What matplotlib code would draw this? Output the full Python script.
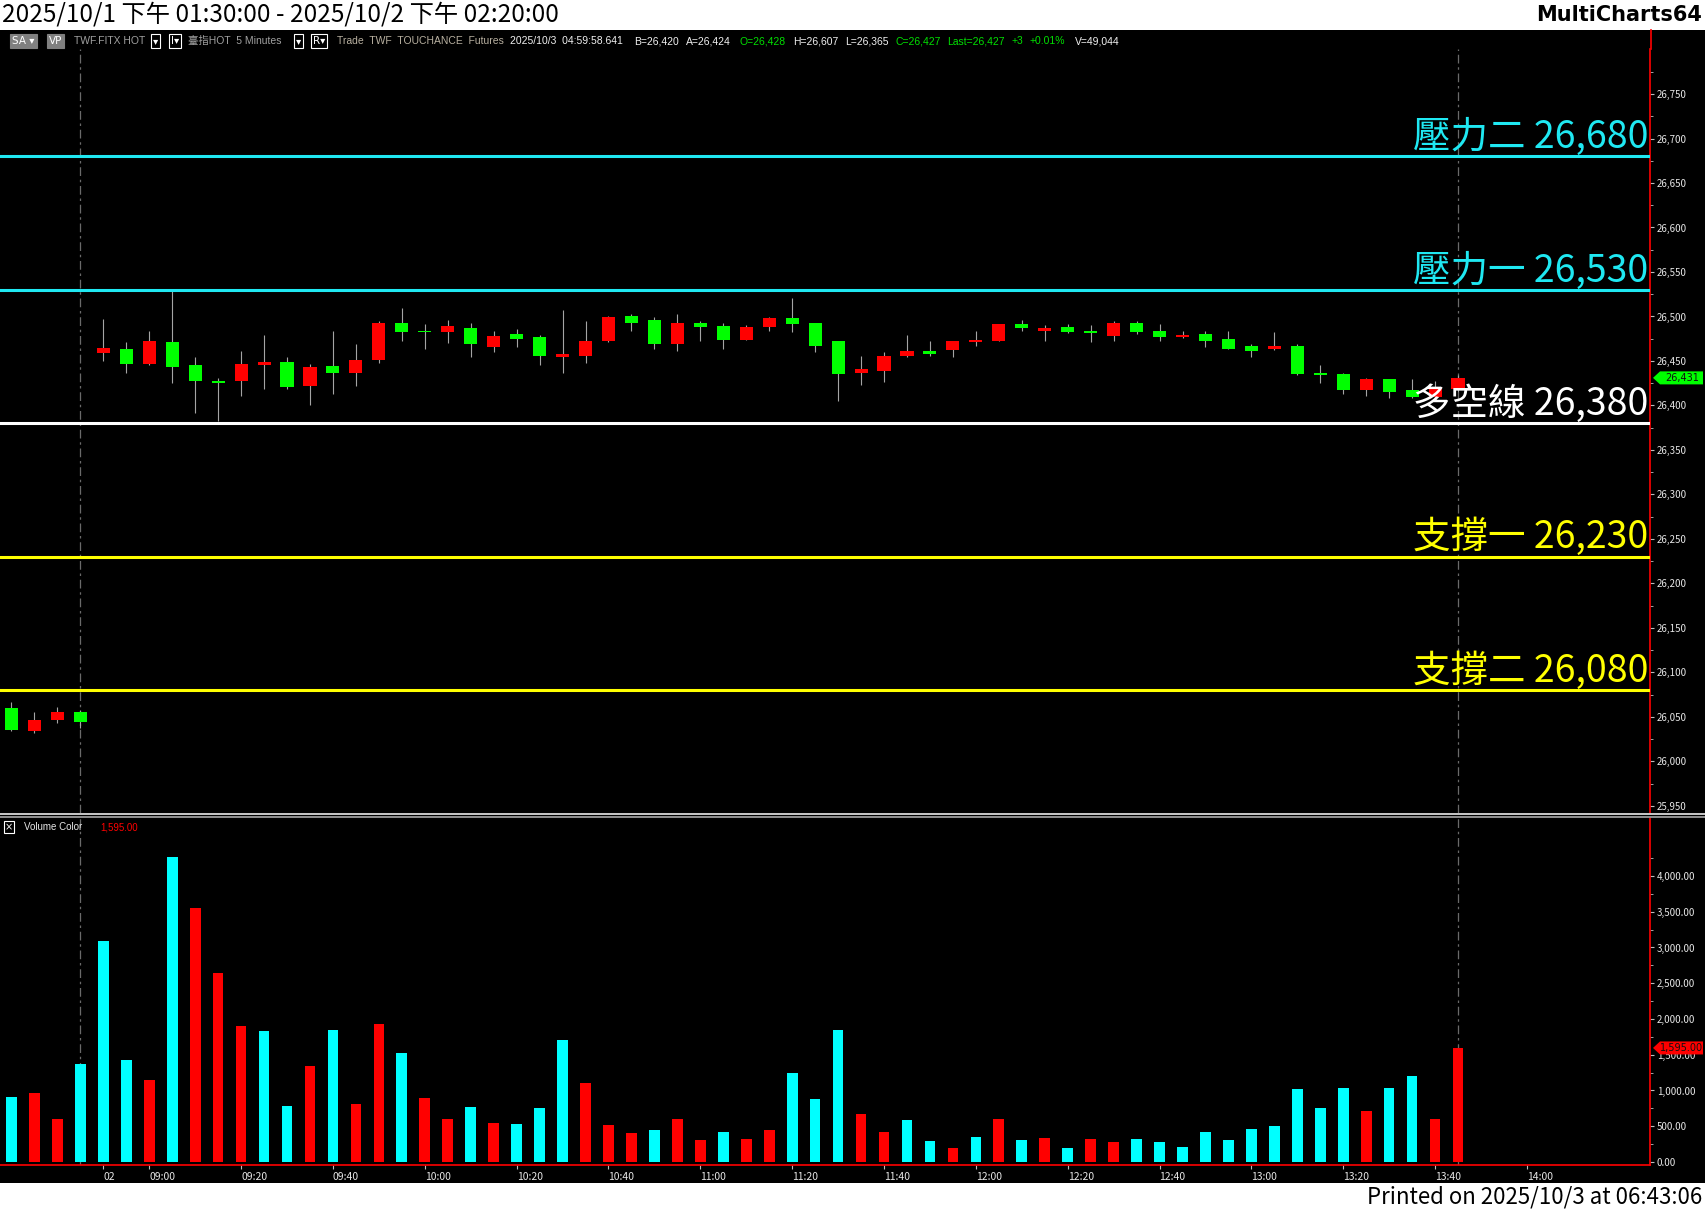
import matplotlib
matplotlib.use('Agg')
import matplotlib.pyplot as plt
from matplotlib.patches import Rectangle, Polygon
from matplotlib.lines import Line2D
from matplotlib.ticker import FixedLocator, FuncFormatter
from matplotlib.transforms import blended_transform_factory

plt.rcParams['font.family'] = ['Noto Sans CJK TC', 'DejaVu Sans']

# 5 分鐘 K 線 (前 4 根為 10/1 夜盤前, 之後 10/2 08:50 ~ 13:45)
opens = [26035, 26046, 26056, 26044,
         26465, 26447, 26472, 26443, 26427, 26425, 26447, 26449, 26421, 26443, 26436, 26451,
         26493, 26483, 26482, 26489, 26469, 26478, 26475, 26456, 26458, 26473,
         26499, 26493, 26469, 26493, 26488, 26474, 26488, 26498, 26492, 26467, 26435, 26441,
         26456, 26461, 26458, 26473, 26474, 26492, 26487, 26487, 26482, 26481, 26493, 26483,
         26477, 26479,
         26473, 26464, 26461, 26467, 26435, 26434, 26417, 26430, 26415, 26409, 26421, 26431]
highs = [26067, 26056, 26061, 26058,
         26497, 26471, 26484, 26529, 26454, 26431, 26461, 26479, 26454, 26447, 26484, 26469,
         26495, 26510, 26492, 26496, 26493, 26484, 26486, 26479, 26507, 26495,
         26500, 26503, 26499, 26503, 26495, 26493, 26490, 26499, 26521, 26493, 26472, 26456,
         26460, 26479, 26473, 26473, 26484, 26492, 26496, 26490, 26491, 26490, 26495, 26495,
         26491, 26484,
         26484, 26484, 26469, 26483, 26469, 26445, 26437, 26431, 26430, 26430, 26427, 26434]
lows = [26034, 26032, 26043, 26037,
        26450, 26436, 26446, 26425, 26392, 26382, 26411, 26419, 26419, 26401, 26413, 26422,
        26448, 26473, 26464, 26470, 26455, 26460, 26466, 26445, 26437, 26448,
        26471, 26484, 26463, 26461, 26472, 26464, 26474, 26484, 26483, 26460, 26405, 26423,
        26426, 26455, 26456, 26455, 26467, 26472, 26484, 26473, 26481, 26471, 26473, 26480,
        26473, 26476,
        26466, 26464, 26455, 26462, 26434, 26425, 26413, 26411, 26408, 26408, 26410, 26415]
closes = [26060, 26034, 26046, 26056,
          26459, 26464, 26447, 26471, 26446, 26428, 26427, 26446, 26449, 26422, 26444, 26437,
          26451, 26493, 26484, 26483, 26487, 26466, 26480, 26477, 26454, 26456,
          26473, 26500, 26496, 26469, 26493, 26489, 26474, 26488, 26498, 26493, 26472, 26436,
          26439, 26456, 26461, 26462, 26471, 26472, 26492, 26484, 26488, 26484, 26478, 26493,
          26484, 26477,
          26480, 26475, 26467, 26464, 26467, 26437, 26435, 26417, 26430, 26417, 26410, 26419]

volumes = [905, 961, 597, 1367, 3090, 1423, 1143, 4266, 3552, 2641, 1899, 1829, 779,
           1339, 1843, 807, 1927, 1521, 891, 597, 765, 541, 527, 751, 1703, 1101,
           513, 401, 443, 597, 303, 415, 317, 443, 1241, 877, 1843, 667, 415, 583, 289,
           191, 345, 597, 303, 331, 191, 317, 275, 317, 275, 205,
           415, 303, 457, 499, 1017, 751, 1031, 709, 1031, 1199, 597, 1595]
vol_up = [1, 0, 0, 1, 1, 1, 0, 1, 0, 0, 0, 1, 1, 0, 1, 0, 0, 1, 0, 0, 1, 0, 1, 1, 1, 0,
          0, 0, 1, 0, 0, 1, 0, 0, 1, 1, 1, 0, 0, 1, 1, 0, 1, 0, 1, 0, 1, 0, 0, 1, 1, 1,
          1, 1, 1, 1, 1, 1, 1, 0, 1, 1, 0, 0]

levels = [26680, 26530, 26380, 26230, 26080]
level_names = ['壓力二', '壓力一', '多空線', '支撐一', '支撐二']
level_colors = ['#1fe8f2', '#1fe8f2', '#ffffff', '#ffff00', '#ffff00']

tick_bars = [4, 6, 10, 14, 18, 22, 26, 30, 34, 38, 42, 46, 50, 54, 58, 62, 66]
tick_labels = ['02', '09:00', '09:20', '09:40', '10:00', '10:20', '10:40', '11:00',
               '11:20', '11:40', '12:00', '12:20', '12:40', '13:00', '13:20', '13:40', '14:00']
session_marks = [3, 63]
last_price = 26431
last_volume = 1595.00

W, H = 1705, 1211
fig = plt.figure(figsize=(W / 100, H / 100), dpi=100, facecolor='white')


def fx(px):
    return px / W


def fy(py):
    return 1 - py / H


fig.add_artist(Rectangle((0, fy(1183)), 1, fy(30) - fy(1183), transform=fig.transFigure,
                         facecolor='black', edgecolor='none', zorder=0))

ax = fig.add_axes([0, fy(813), fx(1650), (813 - 49) / H])
vax = fig.add_axes([0, fy(1165), fx(1650), (1165 - 818) / H])

xs = list(range(len(opens)))
for a in (ax, vax):
    a.set_facecolor('black')
    a.set_xlim(-0.5, 71.36)
    for s in ('top', 'left', 'bottom'):
        a.spines[s].set_visible(False)
    a.spines['right'].set_color('#ff0000')
    a.spines['right'].set_linewidth(1.2)
    a.yaxis.tick_right()
    a.tick_params(axis='y', colors='#bdbdbd', labelcolor='#e6e6e6', labelsize=7,
                  length=3, pad=2, which='major')
    a.tick_params(axis='y', which='minor', colors='#bdbdbd', length=2)
    for m in session_marks:
        a.axvline(m, color='#6a6a6a', lw=0.9, ls=(0, (7, 3, 2, 3)), zorder=1)

# 價格
ax.set_ylim(25942, 26800.6)
ax.yaxis.set_major_locator(FixedLocator(list(range(25950, 26751, 50))))
ax.yaxis.set_minor_locator(FixedLocator(list(range(25950, 26776, 25))))
ax.yaxis.set_major_formatter(FuncFormatter(lambda v, p: f'{v:,.0f}'))
ax.set_xticks([])

ax.vlines(xs, lows, highs, color='#a4a4a4', lw=0.8, zorder=2)
bottoms = [min(o, c) for o, c in zip(opens, closes)]
heights = [max(abs(c - o), 1.5) for o, c in zip(opens, closes)]
ccolors = ['#00ff00' if c > o else '#ff0000' for o, c in zip(opens, closes)]
ax.bar(xs, heights, bottom=bottoms, width=0.57, color=ccolors, zorder=3)

for lv, name, col in zip(levels, level_names, level_colors):
    ax.axhline(lv, color=col, lw=2.2, zorder=4)
    ax.annotate(f'{name} {lv:,}', xy=(1, lv), xycoords=('axes fraction', 'data'),
                xytext=(-1, 6), textcoords='offset points', ha='right', va='baseline',
                fontsize=27, color=col, weight='light', zorder=6)

# 量
vax.set_ylim(-42, 4811)
vax.yaxis.set_major_locator(FixedLocator(list(range(0, 4001, 500))))
vax.yaxis.set_minor_locator(FixedLocator(list(range(0, 4251, 250))))
vax.yaxis.set_major_formatter(FuncFormatter(lambda v, p: f'{v:,.2f}'))
vax.spines['bottom'].set_visible(True)
vax.spines['bottom'].set_color('#ff0000')
vax.spines['bottom'].set_linewidth(1.2)
vcolors = ['#00ffff' if u else '#ff0000' for u in vol_up]
vax.bar(xs, volumes, width=0.465, color=vcolors, zorder=3)
vax.set_xticks(tick_bars)
vax.set_xticklabels(tick_labels)
vax.tick_params(axis='x', colors='#bdbdbd', labelcolor='#e6e6e6', labelsize=7.5,
                length=3, pad=2)
for t in vax.get_xticklabels():
    t.set_ha('left')


def axis_marker(a, val, text, face):
    lo, hi = a.get_ylim()
    h_px = a.get_position().height * H
    half = 6.5 * (hi - lo) / h_px
    aw = 1650.0
    tr = blended_transform_factory(a.transAxes, a.transData)
    pts = [(1 + 3 / aw, val), (1 + 10 / aw, val + half), (1 + 53 / aw, val + half),
           (1 + 53 / aw, val - half), (1 + 10 / aw, val - half)]
    a.add_patch(Polygon(pts, closed=True, transform=tr, facecolor=face,
                        edgecolor='none', clip_on=False, zorder=8))
    a.text(1 + 32 / aw, val, text, transform=tr, ha='center', va='center',
           fontsize=7, color='#101010', family='DejaVu Sans', clip_on=False, zorder=9)


axis_marker(ax, last_price, f'{last_price:,}', '#00ff00')
axis_marker(vax, last_volume, f'{last_volume:,.2f}', '#ff0000')

# 分隔線與右側軸線
fig.add_artist(Line2D([0, 1], [fy(814), fy(814)], transform=fig.transFigure,
                      color='#d8d8d8', lw=1.3))
fig.add_artist(Line2D([0, 1], [fy(817), fy(817)], transform=fig.transFigure,
                      color='#9a9a9a', lw=1.3))
fig.add_artist(Line2D([fx(1650.5), fx(1650.5)], [fy(30), fy(49)], transform=fig.transFigure,
                      color='#ff0000', lw=1.2))

# 標題列
fig.text(fx(2), fy(15), '2025/10/1 下午 01:30:00 - 2025/10/2 下午 02:20:00',
         fontsize=17.5, color='black', ha='left', va='center')
fig.text(fx(1702), fy(15), 'MultiCharts64', fontsize=15, weight='bold',
         color='black', ha='right', va='center', family='DejaVu Sans')
fig.text(fx(1702), fy(1197), 'Printed on 2025/10/3 at 06:43:06', fontsize=16,
         color='black', ha='right', va='center')

# 工具列
ty = fy(41)
boxed = [(12, 'SA ▾', '#808080', '#808080'), (49, 'VP', '#808080', '#808080'),
         (153, '▾', 'black', 'white'), (171, 'I▾', 'black', 'white'),
         (296, '▾', 'black', 'white'), (313, 'R▾', 'black', 'white')]
for x, s, fc, ec in boxed:
    fig.text(fx(x), ty, s, fontsize=7.5, color='white', ha='left', va='center',
             family=['DejaVu Sans'],
             bbox=dict(boxstyle='square,pad=0.2', facecolor=fc, edgecolor=ec, lw=0.8))
segments = [(74, 'TWF.FITX HOT', '#a0a0a0'), (188, '臺指HOT  5 Minutes', '#a0a0a0'),
            (337, 'Trade  TWF  TOUCHANCE  Futures', '#b8b0a0'),
            (510, '2025/10/3  04:59:58.641', '#f0f0f0'),
            (634, 'B=26,420', '#f0f0f0'), (686, 'A=26,424', '#f0f0f0'),
            (740, 'O=26,428', '#00e000'), (793, 'H=26,607', '#f0f0f0'),
            (845, 'L=26,365', '#f0f0f0'), (896, 'C=26,427', '#00e000'),
            (947, 'Last=26,427', '#00e000'), (1012, '+3', '#00e000'),
            (1030, '+0.01%', '#00e000'), (1075, 'V=49,044', '#f0f0f0')]
for x, s, c in segments:
    fig.text(fx(x), ty, s, fontsize=7.5, color=c, ha='left', va='center',
             family=['Liberation Sans', 'Noto Sans CJK TC'])

# 量指標標籤
fig.text(fx(5), fy(827), '×', fontsize=7, color='white', ha='left', va='center',
         family=['DejaVu Sans'],
         bbox=dict(boxstyle='square,pad=0.1', facecolor='black', edgecolor='white', lw=0.8))
fig.text(fx(24), fy(827), 'Volume Color', fontsize=7, color='#e6e6e6', ha='left',
         va='center', family=['Liberation Sans'])
fig.text(fx(100), fy(827), f'{last_volume:,.2f}', fontsize=7, color='#ff0000', ha='left',
         va='center', family=['Liberation Sans'])

fig.savefig('out.png', dpi=100, facecolor='white')
